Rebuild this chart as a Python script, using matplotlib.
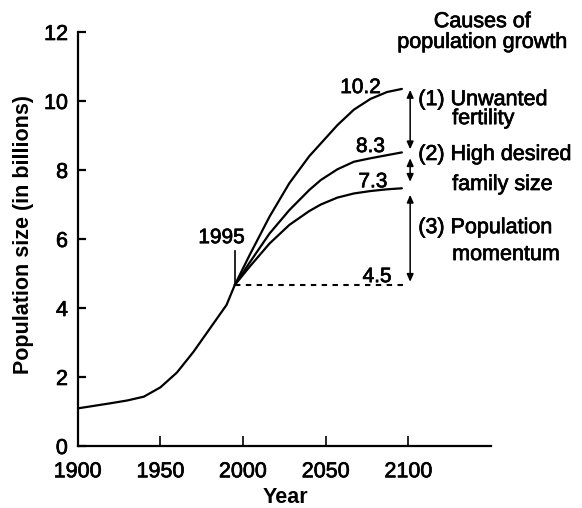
import matplotlib
matplotlib.use("Agg")
import matplotlib.pyplot as plt
import matplotlib.patheffects as pe

plt.rcParams['font.family'] = ['Liberation Sans', 'DejaVu Sans']

# historical population (billions)
hist_years = [1900, 1920, 1930, 1940, 1950, 1960, 1970, 1980, 1990, 1995]
hist_vals = [1.09, 1.24, 1.32, 1.43, 1.70, 2.13, 2.73, 3.41, 4.09, 4.67]

# projections from 1995
proj_years = [1995, 2004, 2016, 2028, 2040, 2047, 2057, 2067, 2077, 2087, 2096]
proj_high = [4.67, 5.54, 6.65, 7.62, 8.40, 8.77, 9.30, 9.75, 10.06, 10.26, 10.35]
proj_mid = [4.67, 5.32, 6.16, 6.84, 7.42, 7.71, 8.02, 8.24, 8.34, 8.43, 8.51]
proj_low = [4.67, 5.20, 5.87, 6.41, 6.81, 7.00, 7.20, 7.32, 7.39, 7.44, 7.47]

end_labels = ["10.2", "8.3", "7.3", "4.5"]
base_level = 4.67
x_ticks = [1900, 1950, 2000, 2050, 2100]
y_ticks = [0, 2, 4, 6, 8, 10, 12]

causes = ["(1) Unwanted", "fertility", "(2) High desired", "family size",
          "(3) Population", "momentum"]

W, H = 582, 508
fig = plt.figure(figsize=(W / 100, H / 100), dpi=100)
ax = fig.add_axes([77.7 / W, (H - 446) / H, (491.2 - 77.7) / W, (446 - 32) / H])
ax.set_xlim(1900, 2150)
ax.set_ylim(0, 12)

thick = [pe.withStroke(linewidth=0.5, foreground='black')]

lw = 1.6
ax.plot(hist_years, hist_vals, color='black', lw=lw, solid_capstyle='round',
        solid_joinstyle='round')
for ys in (proj_high, proj_mid, proj_low):
    ax.plot(proj_years, ys, color='black', lw=lw, solid_capstyle='round',
            solid_joinstyle='round')

# dashed baseline
ax.plot([1995, 2100], [base_level, base_level], color='black', lw=1.5,
        linestyle=(0, (2.6, 2.6)))
# 1995 marker
ax.plot([1995, 1995], [base_level, 5.65], color='black', lw=1.2)
ax.text(1987, 5.88, "1995", ha='center', va='baseline', fontsize=15,
        path_effects=thick)

# double arrows at 2100
arrow_x = 2101
segs = [(10.32, 8.60), (8.34, 7.66), (7.28, 4.76)]
for top, bot in segs:
    ax.annotate("", xy=(arrow_x, bot), xytext=(arrow_x, top),
                arrowprops=dict(arrowstyle='<|-|>,head_length=0.45,head_width=0.2',
                                color='black', lw=1.1, shrinkA=0, shrinkB=0))

# end labels
lab_pos = [(2071, 10.23), (2077, 8.52), (2078.5, 7.50), (2081, 4.75)]
for txt, (x, y) in zip(end_labels, lab_pos):
    ax.text(x, y, txt, ha='center', va='baseline', fontsize=15,
            path_effects=thick)

# right-side texts
ax.text(2144.5, 12.14, "Causes of", ha='center', va='baseline', fontsize=15.5,
        clip_on=False, path_effects=thick)
ax.text(2144.5, 11.54, "population growth", ha='center', va='baseline',
        fontsize=15.5, clip_on=False, path_effects=thick)
cause_pos = [(2105.9, 9.88), (2126.4, 9.33), (2105.9, 8.29), (2126.4, 7.42),
             (2105.9, 6.17), (2126.4, 5.39)]
for txt, (x, y) in zip(causes, cause_pos):
    ax.text(x, y, txt, ha='left', va='baseline', fontsize=15.5, clip_on=False,
            path_effects=thick)

# axes styling
for s in ('top', 'right'):
    ax.spines[s].set_visible(False)
for s in ('left', 'bottom'):
    ax.spines[s].set_linewidth(1.6)
ax.set_xticks(x_ticks)
ax.set_yticks(y_ticks)
ax.set_xticklabels([str(v) for v in x_ticks], fontsize=15.5)
ax.set_yticklabels([str(v) for v in y_ticks], fontsize=15.5)
for lbl in ax.get_xticklabels() + ax.get_yticklabels():
    lbl.set_path_effects(thick)
ax.tick_params(axis='x', direction='in', length=7, width=1.2, pad=11)
ax.tick_params(axis='y', direction='in', length=6, width=1.6, pad=7)

fig.text(285 / W, (H - 503) / H, "Year", ha='center', va='baseline',
         fontsize=15.5, fontweight='bold')
fig.text(24 / W, (H - 234) / H, "Population size (in billions)", rotation=90,
         ha='center', va='center', fontsize=15.5, fontweight='bold')

fig.savefig("out.png", dpi=100)
